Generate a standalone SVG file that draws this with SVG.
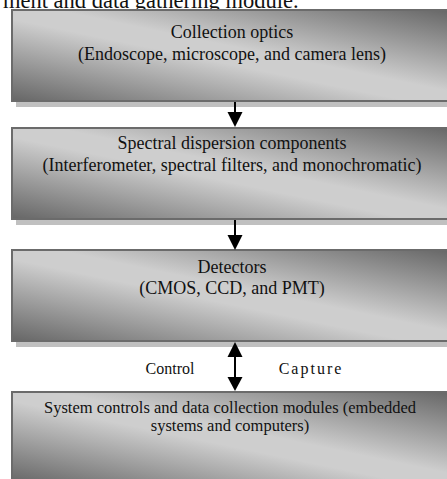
<svg xmlns="http://www.w3.org/2000/svg" width="447" height="479" viewBox="0 0 447 479" font-family="Liberation Serif, Times New Roman, serif">
  <defs>
    <linearGradient id="boxGrad" x1="0" y1="1" x2="1" y2="0">
      <stop offset="0" stop-color="#666666"/>
      <stop offset="0.45" stop-color="#cecece"/>
      <stop offset="0.55" stop-color="#cecece"/>
      <stop offset="1" stop-color="#666666"/>
    </linearGradient>
  </defs>
  <style>
    svg text { font-family: 'Liberation Serif', 'Times New Roman', serif !important; }
    .shadow { fill: #c0c0c0; }
    .box { fill: url(#boxGrad); stroke: #6b6b6b; stroke-width: 2; }
    .t { fill: #111; text-anchor: middle; }
    .t18 { font-size: 18px; }
    .t16 { font-size: 16.5px; }
    .lbl { font-size: 16px; fill: #111; text-anchor: middle; }
    .stem { stroke: #000; stroke-width: 2; fill: none; }
    .head { fill: #000; }
  </style>
  <rect width="447" height="479" fill="#ffffff"/>

  <text x="3" y="8" font-size="22.5px" fill="#111">ment and data gathering module.</text>

  <g id="node-collection-optics">
    <rect class="shadow" x="16" y="15" width="440" height="92"/>
    <rect class="box" x="12" y="10" width="440" height="91"/>
    <text class="t t18" x="232" y="38">Collection optics</text>
    <text class="t t18" x="232" y="60">(Endoscope, microscope, and camera lens)</text>
  </g>

  <g id="node-spectral-dispersion">
    <rect class="shadow" x="16" y="133" width="440" height="92"/>
    <rect class="box" x="12" y="128" width="440" height="91"/>
    <text class="t t18" x="232" y="149">Spectral dispersion components</text>
    <text class="t t18" x="232" y="171">(Interferometer, spectral filters, and monochromatic)</text>
  </g>

  <g id="node-detectors">
    <rect class="shadow" x="16" y="255" width="440" height="92"/>
    <rect class="box" x="12" y="250" width="440" height="91"/>
    <text class="t t18" x="232" y="273">Detectors</text>
    <text class="t t18" x="232" y="294">(CMOS, CCD, and PMT)</text>
  </g>

  <g id="node-system-controls">
    <rect class="shadow" x="16" y="397" width="440" height="92"/>
    <rect class="box" x="12" y="392" width="440" height="91"/>
    <text class="t t16" x="230" y="413">System controls and data collection modules (embedded</text>
    <text class="t t16" x="230" y="431">systems and computers)</text>
  </g>

  <g id="connectors">
    <line class="stem" x1="235" y1="102" x2="235" y2="114"/>
    <polygon class="head" points="227.5,112 242.5,112 235,127"/>

    <line class="stem" x1="235" y1="220" x2="235" y2="237"/>
    <polygon class="head" points="227.5,235 242.5,235 235,250"/>

    <line class="stem" x1="235" y1="355" x2="235" y2="379"/>
    <polygon class="head" points="235,342 242.5,357 227.5,357"/>
    <polygon class="head" points="227.5,377 242.5,377 235,391"/>

    <text class="lbl" x="170" y="374">Control</text>
    <text class="lbl" x="311" y="374" letter-spacing="2">Capture</text>
  </g>
</svg>
